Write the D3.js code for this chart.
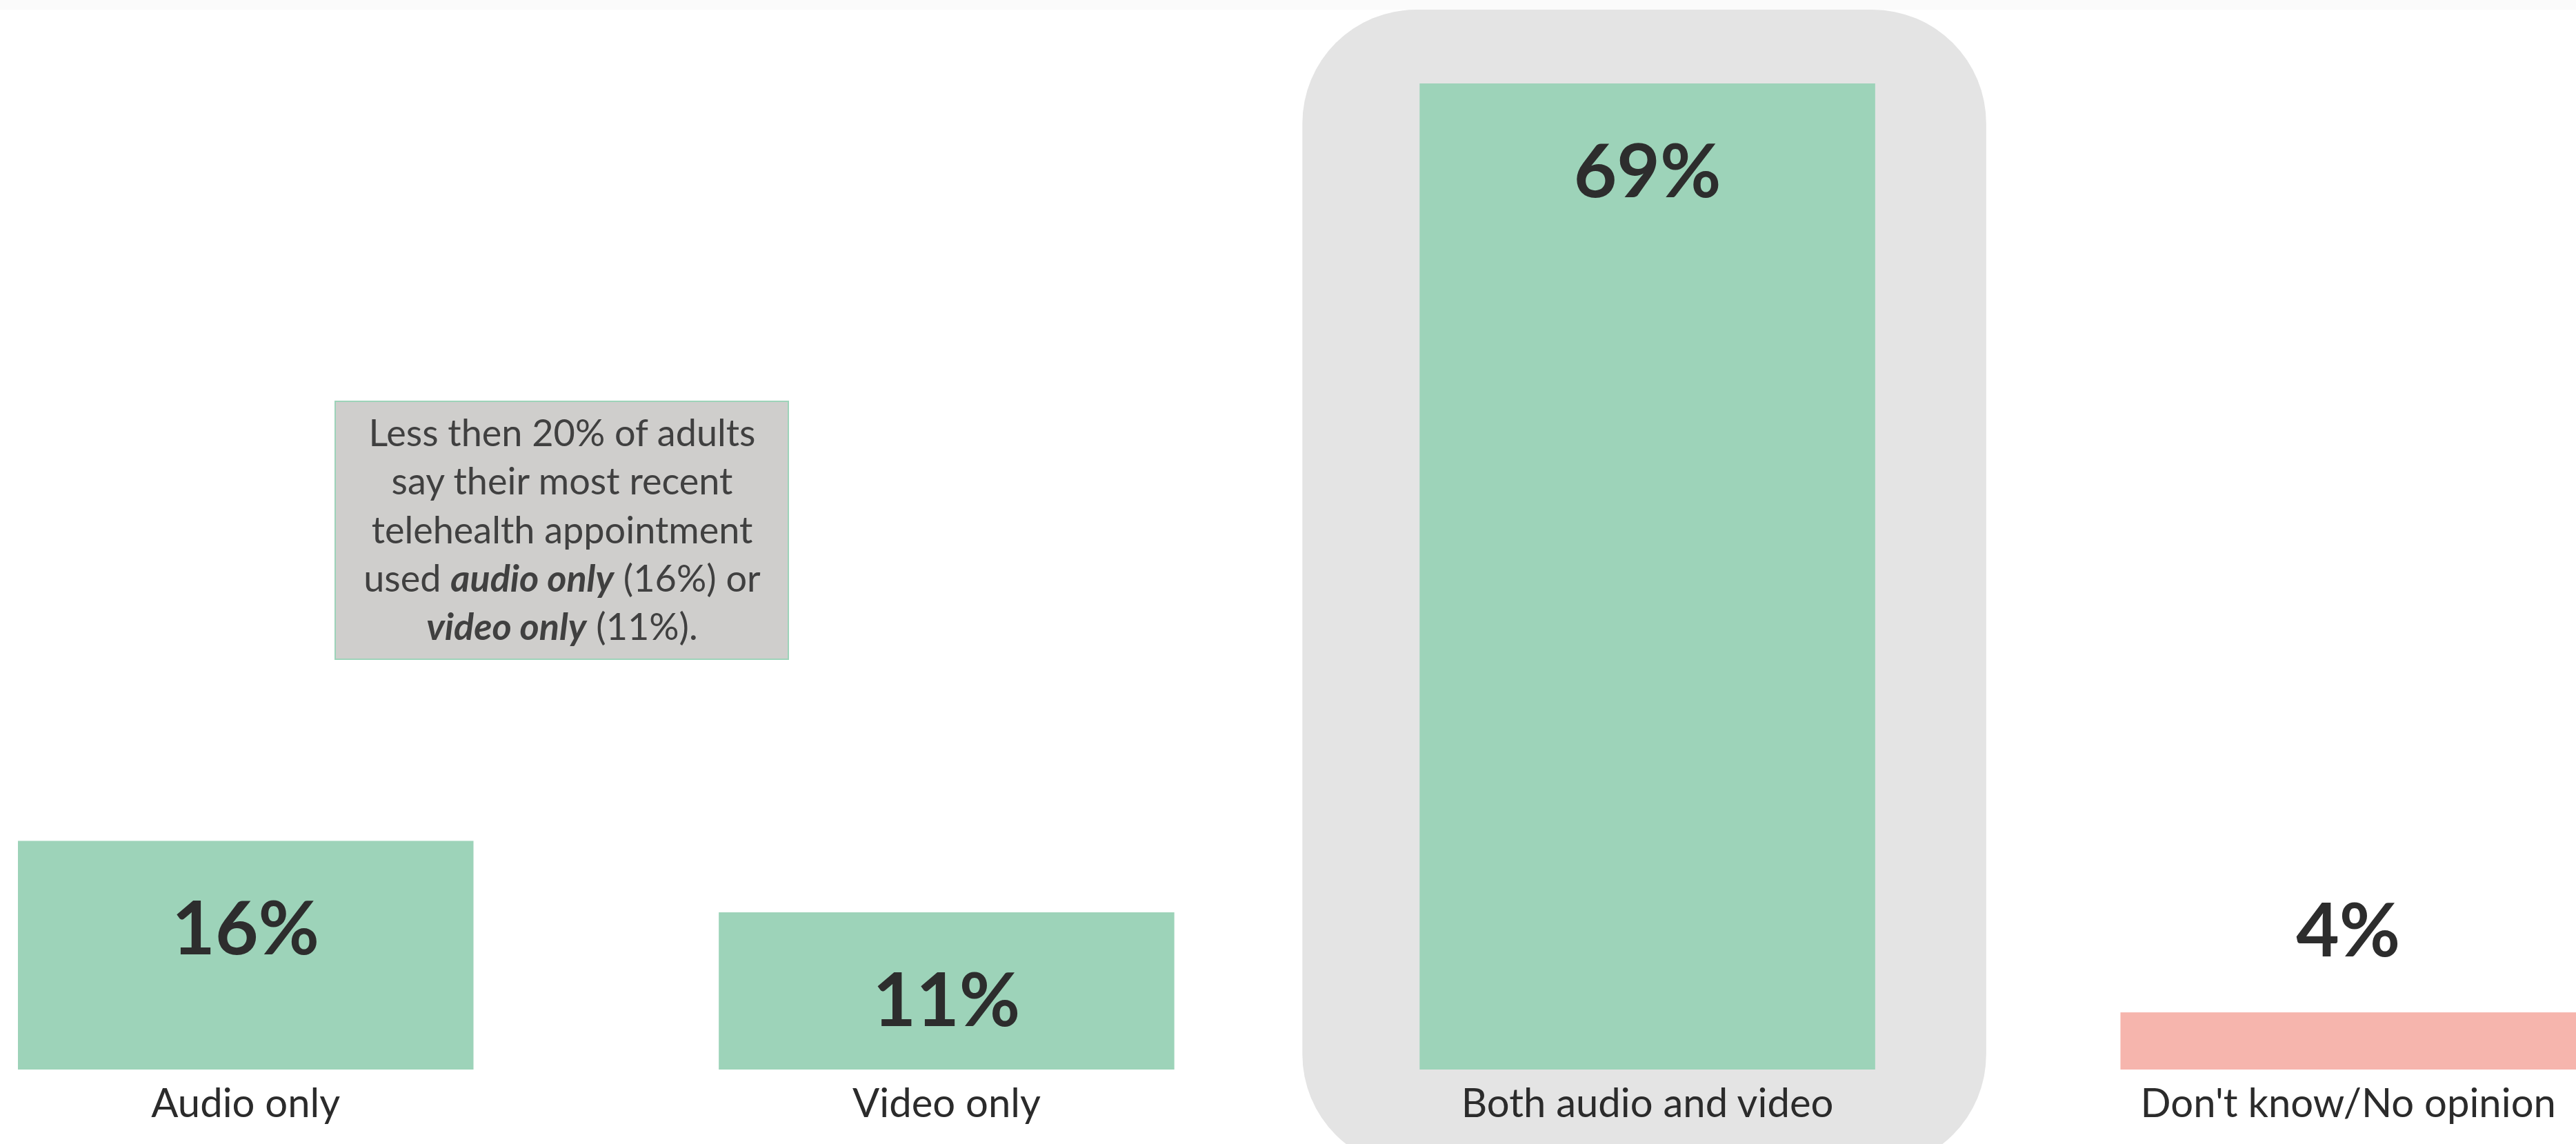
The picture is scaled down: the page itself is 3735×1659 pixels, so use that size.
<!DOCTYPE html>
<html>
<head>
<meta charset="utf-8">
<script src="https://cdn.jsdelivr.net/npm/d3@7"></script>
<style>
  html, body { margin: 0; padding: 0; background: #ffffff; }
  svg { display: block; }
</style>
</head>
<body>
<svg id="chart"></svg>
<script>
// Telehealth appointment mode (share of adults)
const categories = ["Audio only", "Video only", "Both audio and video", "Don't know/No opinion"];
const values = [16, 11, 69, 4];
const valueLabels = ["16%", "11%", "69%", "4%"];
const highlighted = ["Both audio and video"];
const noteLines = [
  [{ t: "Less then 20% of adults" }],
  [{ t: "say their most recent" }],
  [{ t: "telehealth appointment" }],
  [{ t: "used " }, { t: "audio only", em: true }, { t: " (16%) or" }],
  [{ t: "video only", em: true }, { t: " (11%)." }]
];

const W = 3735, H = 1659;
const svg = d3.select("#chart").attr("width", W).attr("height", H);

const font = "Lato, 'Open Sans', sans-serif";
const textDark = "#2b2b2b";

const x = d3.scaleBand().domain(categories).range([26, 3735]).paddingInner(0.35).paddingOuter(0);
const y = d3.scaleLinear().domain([0, 69]).range([1551, 121]);
const color = d3.scaleOrdinal().domain(categories)
  .range(["#9dd3b9", "#9dd3b9", "#9dd3b9", "#f6b5ad"]);

// faint strip along the top edge
svg.append("rect").attr("x", 0).attr("y", 0).attr("width", W).attr("height", 14).attr("fill", "#fbfbfb");

// rounded highlight panel behind the emphasised category
svg.selectAll("rect.panel").data(highlighted).join("rect")
  .attr("class", "panel")
  .attr("x", d => x(d) - 170)
  .attr("y", 14)
  .attr("width", d => x.bandwidth() + 331)
  .attr("height", 1680)
  .attr("rx", 165).attr("ry", 165)
  .attr("fill", "#e4e4e4");

// bars
svg.selectAll("rect.bar").data(categories).join("rect")
  .attr("class", "bar")
  .attr("x", d => x(d))
  .attr("y", (d, i) => y(values[i]))
  .attr("width", x.bandwidth())
  .attr("height", (d, i) => y(0) - y(values[i]))
  .attr("fill", d => color(d));

// value labels: inside the top of tall bars, above short ones
svg.selectAll("text.value").data(categories).join("text")
  .attr("class", "value")
  .attr("x", d => x(d) + x.bandwidth() / 2)
  .attr("y", (d, i) => values[i] >= 8 ? y(values[i]) + 165 : y(values[i]) - 81)
  .attr("text-anchor", "middle")
  .attr("font-family", font)
  .attr("font-weight", 700)
  .attr("font-size", 108)
  .attr("fill", "#2d2d2d")
  .text((d, i) => valueLabels[i]);

// category axis labels
const xAxis = d3.axisBottom(x).tickSize(0).tickPadding(0);
const gx = svg.append("g").attr("transform", "translate(0,1551)").call(xAxis);
gx.select(".domain").remove();
gx.selectAll(".tick text")
  .attr("y", 69).attr("dy", 0)
  .attr("font-family", font)
  .attr("font-size", 58)
  .attr("fill", textDark);

// annotation box
const note = svg.append("g");
note.append("rect")
  .attr("x", 486).attr("y", 582).attr("width", 657).attr("height", 374)
  .attr("fill", "#cfcecc").attr("stroke", "#9dd3b9").attr("stroke-width", 2);
const noteText = note.append("text")
  .attr("text-anchor", "middle")
  .attr("font-family", font)
  .attr("font-size", 54)
  .attr("fill", "#404040");
noteLines.forEach((line, li) => {
  line.forEach((seg, si) => {
    const ts = noteText.append("tspan").text(seg.t);
    if (si === 0) ts.attr("x", 815).attr("y", 647 + li * 70.3);
    if (seg.em) ts.attr("font-weight", 700).attr("font-style", "italic");
  });
});
</script>
</body>
</html>
